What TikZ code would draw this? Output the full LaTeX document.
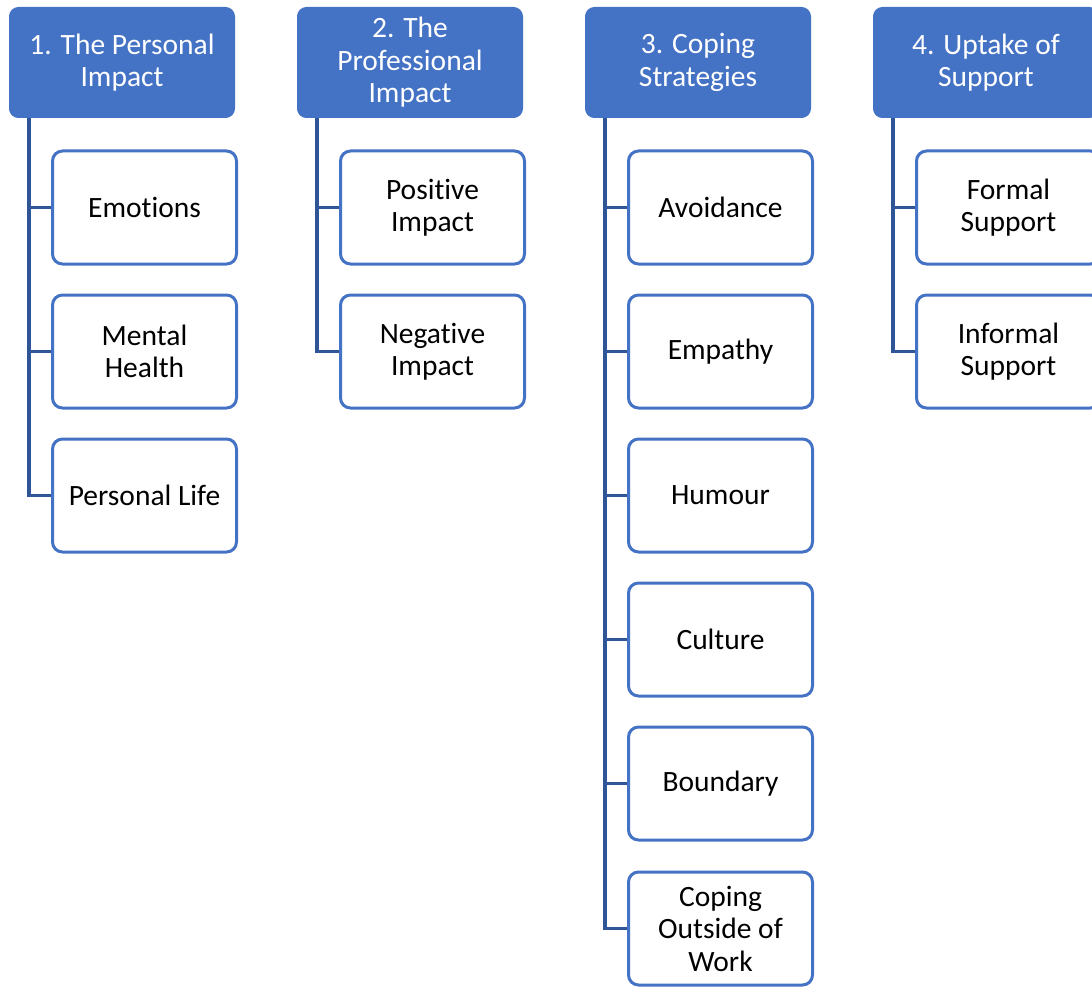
\documentclass[tikz,border=0pt]{standalone}
\usepackage{fontspec}
\setmainfont{Carlito}[Ligatures=NoCommon]
\definecolor{headblue}{HTML}{4472C4}
\definecolor{linkblue}{HTML}{2F5597}
\begin{document}
\begin{tikzpicture}[x=1pt,y=-1pt,
  txt/.style={font=\fontsize{29.5}{32.5}\selectfont, align=center},
  header/.style={txt, rectangle, rounded corners=9pt, fill=headblue, draw=headblue, line width=1pt,
    text=white, minimum width=225pt, minimum height=110pt, inner sep=2pt},
  leaf/.style={txt, rectangle, rounded corners=10pt, fill=white, draw=headblue, line width=3pt,
    text=black, minimum width=184pt, minimum height=113pt, inner sep=2pt},
  link/.style={draw=linkblue, line width=3.5pt}]
\useasboundingbox (0,0) rectangle (1092,987);

% column headers
\node[header] (h1) at (122,62.5) {1. The Personal\\Impact};
\node[header] (h2) at (410,62.5) {2. The\\Professional\\Impact};
\node[header] (h3) at (698,62.5) {3. Coping\\Strategies};
\node[header] (h4) at (986,62.5) {4. Uptake of\\Support};

% column 1
\node[leaf] (a1) at (144.5,207.5) {Emotions};
\node[leaf] (a2) at (144.5,351.5) {Mental\\Health};
\node[leaf] (a3) at (144.5,495.5) {Personal Life};

% column 2
\node[leaf] (b1) at (432.5,207.5) {Positive\\Impact};
\node[leaf] (b2) at (432.5,351.5) {Negative\\Impact};

% column 3
\node[leaf] (c1) at (720.5,207.5) {Avoidance};
\node[leaf] (c2) at (720.5,351.5) {Empathy};
\node[leaf] (c3) at (720.5,495.5) {Humour};
\node[leaf] (c4) at (720.5,639.5) {Culture};
\node[leaf] (c5) at (720.5,783.5) {Boundary};
\node[leaf] (c6) at (720.5,928.5) {Coping\\Outside of\\Work};

% column 4
\node[leaf] (d1) at (1008.5,207.5) {Formal\\Support};
\node[leaf] (d2) at (1008.5,351.5) {Informal\\Support};

% connectors: trunk down from each header, branch to each item
\foreach \h/\items in {h1/{a1,a2,a3}, h2/{b1,b2}, h3/{c1,c2,c3,c4,c5,c6}, h4/{d1,d2}}{
  \foreach \n in \items {
    \draw[link] ([xshift=20pt]\h.south west) |- (\n.west);
  }
}
\end{tikzpicture}
\end{document}
